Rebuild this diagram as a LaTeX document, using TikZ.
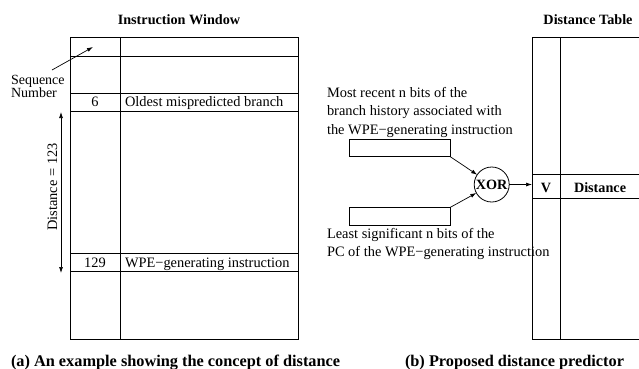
\documentclass[tikz,border=0pt]{standalone}
\usepackage{fontspec}
\setmainfont{Liberation Serif}
\usetikzlibrary{arrows.meta}
\begin{document}
\begin{tikzpicture}[x=1pt,y=-1pt,
  every node/.style={inner sep=0pt,outer sep=0pt},
  txt/.style={font=\fontsize{14.4}{18.5}\selectfont},
  btxt/.style={font=\fontsize{14.2}{15}\selectfont\bfseries},
  captxt/.style={font=\fontsize{16.3}{18}\selectfont\bfseries},
  ln/.style={line width=0.8pt},
  arr/.style={line width=0.7pt,-{Latex[length=6pt,width=4pt]}},
  darr/.style={line width=0.7pt,{Latex[length=6pt,width=4pt]}-{Latex[length=6pt,width=4pt]}},
  bitbox/.style={draw,line width=0.8pt,minimum width=101pt,minimum height=17.5pt}
]
\useasboundingbox (0,0) rectangle (639,368);
% ---------- left: instruction window ----------
\node[btxt,anchor=base] (t1) at (179,24) {Instruction Window};
\draw[ln] (70,37.7) rectangle (298,339);
\draw[ln] (120,37.7) -- (120,339);
\foreach \yy in {56.3,93,111,253.3,271.3} \draw[ln] (70,\yy) -- (298,\yy);
\node[txt,anchor=base] (n6) at (95,106.7) {6};
\node[txt,anchor=base west] (old) at (125,106.7) {Oldest mispredicted branch};
\node[txt,anchor=base] (n129) at (95,267.3) {129};
\node[txt,anchor=base west] (wpe) at (125,267.3) {WPE−generating instruction};
\node[align=left,anchor=west,font=\fontsize{14}{12.3}\selectfont] (seq) at (11,86.5) {Sequence\\Number};
\coordinate (seqstart) at (52,70);
\coordinate (seqend) at (93,47);
\draw[arr] (seqstart) -- (seqend);
\coordinate (dtop) at (61,112);
\coordinate (dbot) at (61,273);
\draw[darr] (dtop) -- (dbot);
\node[txt,rotate=90] (dlab) at (52.5,187) {Distance = 123};
\node[captxt,anchor=base west] (capa) at (11,366) {(a) An example showing the concept of distance};
% ---------- right: distance predictor ----------
\node[btxt,anchor=base] (t2) at (588,24) {Distance Table};
\draw[ln] (645,37.7) -- (532,37.7) -- (532,339) -- (645,339);
\draw[ln] (560,37.7) -- (560,339);
\draw[ln] (532,174) -- (645,174);
\draw[ln] (532,198) -- (645,198);
\node[btxt,anchor=base] (v) at (546,192) {V};
\node[btxt,anchor=base west] (dist) at (574,192) {Distance};
\coordinate (vin) at (532,184.5);
\node[txt,anchor=base west] (mr1) at (327,97) {Most recent n bits of the};
\node[txt,anchor=base west] (mr2) at (327,115.5) {branch history associated with};
\node[txt,anchor=base west] (mr3) at (327,134) {the WPE−generating instruction};
\node[bitbox,anchor=north west] (b1) at (349,139) {};
\node[bitbox,anchor=north west] (b2) at (349,207.5) {};
\node[txt,anchor=base west] (ls1) at (327,238.3) {Least significant n bits of the};
\node[txt,anchor=base west] (ls2) at (327,256.7) {PC of the WPE−generating instruction};
\node[draw,circle,line width=0.8pt,minimum size=35pt,btxt] (xor) at (491.7,184.5) {XOR};
\draw[arr] (b1.south east) -- (xor);
\draw[arr] (b2.north east) -- (xor);
\draw[arr] (xor) -- (vin);
\node[captxt,anchor=base west] (capb) at (405,366) {(b) Proposed distance predictor};
\end{tikzpicture}
\end{document}
